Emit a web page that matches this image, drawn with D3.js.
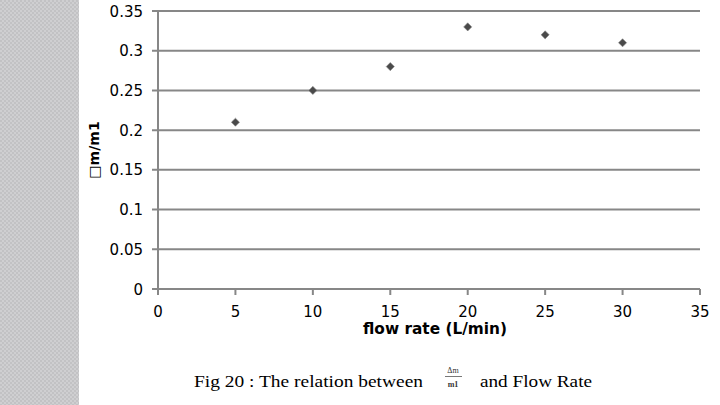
<!DOCTYPE html>
<html><head><meta charset="utf-8">
<script src="https://cdn.jsdelivr.net/npm/d3@7/dist/d3.min.js"></script>
<style>body{margin:0;background:#fff}svg{display:block}</style>
</head><body>
<svg id="c" width="720" height="405"></svg>
<script>
const flowRate = [5, 10, 15, 20, 25, 30];
const ratio = [0.21, 0.25, 0.28, 0.33, 0.32, 0.31];
const xTicks = [0, 5, 10, 15, 20, 25, 30, 35];
const yTicks = [0, 0.05, 0.1, 0.15, 0.2, 0.25, 0.3, 0.35];
const xTitle = "flow rate (L/min)";
const yTitle = "\u25A1m/m1";

const svg = d3.select("#c");
const defs = svg.append("defs");
const pat = defs.append("pattern").attr("id","dots").attr("width",4).attr("height",4).attr("patternUnits","userSpaceOnUse");
pat.append("rect").attr("width",4).attr("height",4).attr("fill","#cfcfd1");
pat.append("rect").attr("width",2).attr("height",2).attr("fill","#c2c2c4");
pat.append("rect").attr("x",2).attr("y",2).attr("width",2).attr("height",2).attr("fill","#c2c2c4");
svg.append("rect").attr("x",0).attr("y",0).attr("width",79).attr("height",405).attr("fill","url(#dots)");

const x = d3.scaleLinear().domain([0,35]).range([158,700]);
const y = d3.scaleLinear().domain([0,0.35]).range([289,11]);
const grid = "#878787";

svg.append("g").selectAll("line").data(yTicks).join("line")
  .attr("x1",152).attr("x2",700).attr("y1",d=>y(d)).attr("y2",d=>y(d))
  .attr("stroke",grid).attr("stroke-width",2);
svg.append("line").attr("x1",x(0)).attr("x2",x(0)).attr("y1",y(0.35)).attr("y2",y(0)+1)
  .attr("stroke",grid).attr("stroke-width",2);
svg.append("g").selectAll("line").data(xTicks).join("line")
  .attr("x1",d=>x(d)).attr("x2",d=>x(d)).attr("y1",y(0)).attr("y2",y(0)+6)
  .attr("stroke",grid).attr("stroke-width",2);

const font = "'DejaVu Sans', Verdana, sans-serif";
svg.append("g").selectAll("text").data(yTicks).join("text")
  .attr("x",143).attr("y",d=>y(d)+5.5).attr("text-anchor","end")
  .attr("font-family",font).attr("font-size",15).attr("fill","#000")
  .text(d=>d===0?"0":String(+d.toFixed(2)));
svg.append("g").selectAll("text").data(xTicks).join("text")
  .attr("x",d=>x(d)).attr("y",317).attr("text-anchor","middle")
  .attr("font-family",font).attr("font-size",15).attr("fill","#000")
  .text(d=>d);

svg.append("text").attr("x",363).attr("y",334).attr("textLength",144).attr("lengthAdjust","spacingAndGlyphs")
  .attr("font-family",font).attr("font-size",15).attr("font-weight","bold").text(xTitle);
svg.append("text").attr("transform","translate(98.5,150) rotate(-90)").attr("text-anchor","middle")
  .attr("font-family",font).attr("font-size",14).attr("font-weight","bold").text(yTitle);

const pts = flowRate.map((f,i)=>[f,ratio[i]]);
svg.append("g").selectAll("path").data(pts).join("path")
  .attr("d", d3.symbol().type(d3.symbolDiamond2).size(42))
  .attr("transform",d=>`translate(${x(d[0])},${y(d[1])})`)
  .attr("fill","#4a4a4a").attr("stroke","#888").attr("stroke-width",0.6);

const serif = "'Liberation Serif', 'Times New Roman', serif";
svg.append("text").attr("x",194).attr("y",387).attr("textLength",229).attr("lengthAdjust","spacingAndGlyphs")
  .attr("font-family",serif).attr("font-size",17).text("Fig 20 : The relation between");
svg.append("text").attr("x",480).attr("y",387).attr("textLength",112).attr("lengthAdjust","spacingAndGlyphs")
  .attr("font-family",serif).attr("font-size",17).text("and Flow Rate");
svg.append("text").attr("x",453).attr("y",373).attr("text-anchor","middle").attr("font-family",serif)
  .attr("font-size",8).attr("fill","#333").text("\u0394m");
svg.append("line").attr("x1",445).attr("x2",462).attr("y1",376.5).attr("y2",376.5).attr("stroke","#555").attr("stroke-width",0.8);
svg.append("text").attr("x",453).attr("y",386.5).attr("text-anchor","middle").attr("font-family",serif)
  .attr("font-size",8).attr("font-weight","bold").attr("fill","#333").text("m1");
</script>
</body></html>
